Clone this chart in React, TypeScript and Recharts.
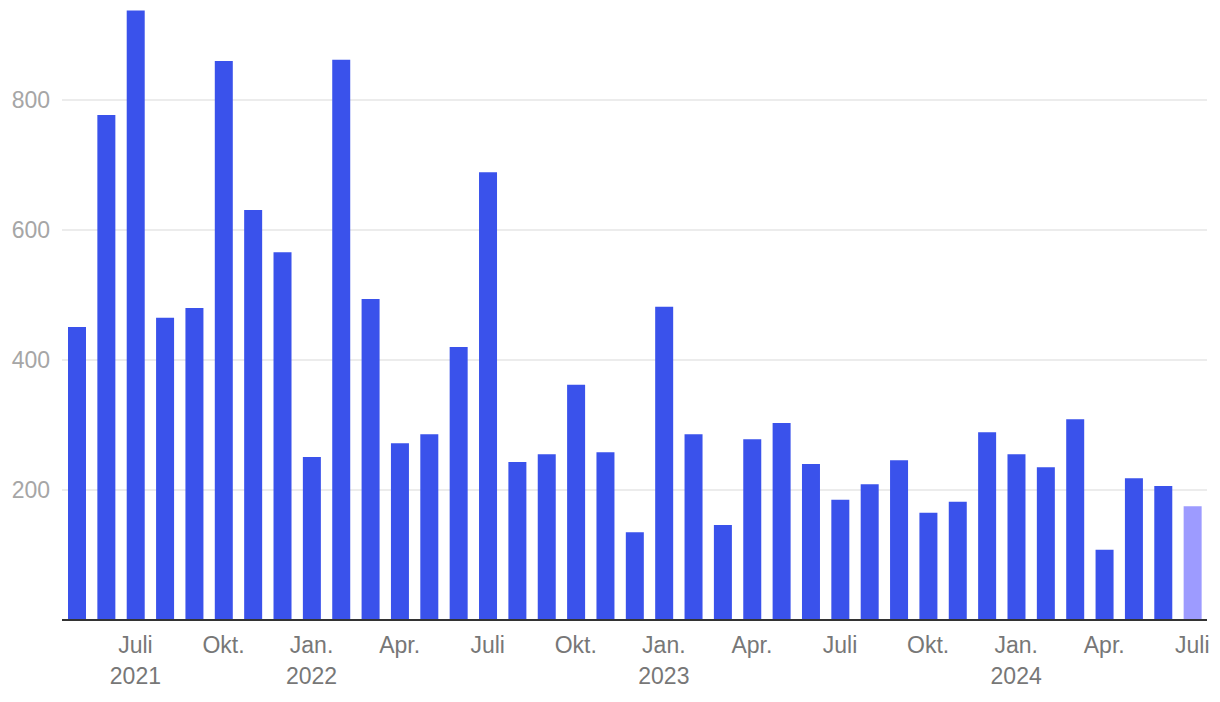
import { BarChart, Bar, XAxis, YAxis, CartesianGrid, Cell } from 'recharts'

// Monate Mai 2021 – Juli 2024
const monate = [
  'Mai', 'Juni', 'Juli', 'Aug.', 'Sep.', 'Okt.', 'Nov.', 'Dez.',
  'Jan.', 'Feb.', 'März', 'Apr.', 'Mai', 'Juni', 'Juli', 'Aug.', 'Sep.', 'Okt.', 'Nov.', 'Dez.',
  'Jan.', 'Feb.', 'März', 'Apr.', 'Mai', 'Juni', 'Juli', 'Aug.', 'Sep.', 'Okt.', 'Nov.', 'Dez.',
  'Jan.', 'Feb.', 'März', 'Apr.', 'Mai', 'Juni', 'Juli',
]
const jahre = [
  '', '', '2021', '', '', '', '', '',
  '2022', '', '', '', '', '', '', '', '', '', '', '',
  '2023', '', '', '', '', '', '', '', '', '', '', '',
  '2024', '', '', '', '', '', '',
]
const werte = [
  451, 777, 938, 465, 480, 860, 631, 566,
  251, 862, 494, 272, 286, 420, 689, 243, 255, 362, 258, 135,
  482, 286, 146, 278, 303, 240, 185, 209, 246, 165, 182, 289,
  255, 235, 309, 108, 218, 206, 175,
]
// nur diese Monate bekommen eine Beschriftung
const beschriftet = ['Jan.', 'Apr.', 'Juli', 'Okt.']
const yTicks = [200, 400, 600, 800]

const daten = monate.map((m, i) => ({ monat: m, jahr: jahre[i], wert: werte[i] }))

const BLAU = '#3a52eb'
const HELL = '#9d9bff'
const schrift = '"Liberation Sans", Arial, Helvetica, sans-serif'

function MonatTick({ x, y, payload }: any) {
  const d = daten[payload.index]
  if (!d || !beschriftet.includes(d.monat)) return null
  return (
    <g>
      <text x={x} y={y + 33} textAnchor="middle" fill="#777" fontSize={23} fontFamily={schrift}>
        {d.monat}
      </text>
      {d.jahr && (
        <text x={x} y={y + 64} textAnchor="middle" fill="#777" fontSize={23} fontFamily={schrift}>
          {d.jahr}
        </text>
      )}
    </g>
  )
}

export default function App() {
  return (
    <div style={{ position: 'absolute', left: 0, top: 0, width: 1220, height: 702, background: '#fff' }}>
      <BarChart width={1220} height={702} data={daten} margin={{ top: 0, right: 13, bottom: 0, left: 0 }}>
        <CartesianGrid vertical={false} horizontalValues={yTicks} stroke="#e6e6e6" strokeWidth={1.5} />
        <XAxis
          dataKey="monat"
          interval={0}
          height={82}
          tickLine={false}
          tickSize={0}
          tickMargin={0}
          axisLine={{ stroke: '#333', strokeWidth: 2 }}
          tick={<MonatTick />}
        />
        <YAxis
          width={62}
          domain={[0, 954]}
          ticks={yTicks}
          axisLine={false}
          tickLine={false}
          tickSize={0}
          tickMargin={12}
          tick={{ fill: '#a6a6a6', fontSize: 23, fontFamily: schrift }}
        />
        <Bar dataKey="wert" barSize={18} isAnimationActive={false}>
          {daten.map((_, i) => (
            <Cell key={i} fill={i === daten.length - 1 ? HELL : BLAU} />
          ))}
        </Bar>
      </BarChart>
    </div>
  )
}
